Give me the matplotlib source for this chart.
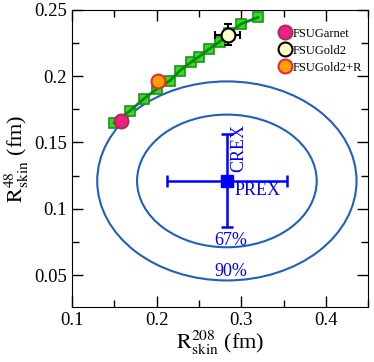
import matplotlib
matplotlib.use("Agg")
import matplotlib.pyplot as plt
import numpy as np
from matplotlib.patches import Ellipse
from matplotlib.ticker import MultipleLocator

plt.rcParams["font.family"] = ["Liberation Serif", "DejaVu Serif"]
plt.rcParams["mathtext.fontset"] = "stix"

# model family (green squares)
skin208 = [0.150, 0.1686, 0.1854, 0.2004, 0.2157, 0.2274, 0.2412, 0.2501,
           0.2619, 0.2745, 0.286, 0.300, 0.3195]
skin48 = [0.1646, 0.1738, 0.1831, 0.1904, 0.1965, 0.204, 0.2108, 0.2146,
          0.2204, 0.2259, 0.2327, 0.2394, 0.2442]

# named models
models = ["FSUGarnet", "FSUGold2", "FSUGold2+R"]
model_x = [0.1584, 0.2839, 0.2023]
model_y = [0.1663, 0.2311, 0.1965]
model_face = ["#ee1f8a", "#ffffc8", "#ffa000"]
model_edge = ["#a83048", "#000000", "#e82838"]
gold2_xerr = 0.015
gold2_yerr = 0.008

# PREX / CREX measurement
prex_x, prex_err = 0.283, 0.071
crex_y, crex_err = 0.121, 0.035

# confidence ellipses (half widths)
ell_labels = ["67%", "90%"]
ell_a = [0.106, 0.153]
ell_b = [0.050, 0.075]
ell_label_y = [0.076, 0.0527]

fig = plt.figure(figsize=(3.74, 3.62), dpi=100)
ax = fig.add_axes([0.192, 0.152, 0.793, 0.821])

for a, b, lab, ly in zip(ell_a, ell_b, ell_labels, ell_label_y):
    ax.add_patch(Ellipse((prex_x, crex_y), 2 * a, 2 * b, fill=False,
                         edgecolor="#1f5fbf", lw=1.5, zorder=1))
    ax.text(prex_x + 0.005, ly, lab, color="#0000ff", fontsize=13,
            ha="center", va="center")

ax.plot(skin208, skin48, "s", ms=7, mfc="#33dd22", mec="#1f8f1f",
        mew=1.2, ls="none", zorder=2)
ax.plot(skin208, skin48, color="#0a8a0a", lw=2, zorder=3)

ax.errorbar(model_x[1], model_y[1], xerr=gold2_xerr, yerr=gold2_yerr,
            fmt="none", ecolor="black", elinewidth=1.5, capsize=3,
            capthick=1.5, zorder=4)
for name, mx, my, fc, ec in zip(models, model_x, model_y, model_face, model_edge):
    ax.plot(mx, my, "o", ms=10, mfc=fc, mec=ec, mew=1.5, ls="none",
            label=name, zorder=5)

ax.errorbar(prex_x, crex_y, xerr=prex_err, yerr=crex_err, fmt="s", ms=8,
            color="#0000ff", elinewidth=1.8, capsize=4, capthick=1.8, zorder=4)
ax.text(0.319, 0.114, "PREX", color="#0000ff", fontsize=13, ha="center",
        va="center")
ax.text(0.2975, 0.146, "CREX", color="#0000ff", fontsize=13, ha="center",
        va="center", rotation=90)

ax.set_xlim(0.1, 0.45)
ax.set_ylim(0.026, 0.25)
ax.xaxis.set_major_locator(MultipleLocator(0.1))
ax.xaxis.set_minor_locator(MultipleLocator(0.05))
ax.yaxis.set_major_locator(MultipleLocator(0.05))
ax.yaxis.set_minor_locator(MultipleLocator(0.025))
ax.tick_params(which="both", direction="in", top=True, right=True,
               labelsize=13.5)
ax.tick_params(which="major", length=8, width=1)
ax.tick_params(which="minor", length=5, width=1)
ax.xaxis.set_major_formatter(plt.FuncFormatter(lambda v, p: f"{v:g}"))
ax.yaxis.set_major_formatter(plt.FuncFormatter(lambda v, p: f"{v:g}"))

ax.set_xlabel(r"$\mathrm{R}^{208}_{\mathrm{skin}}$ (fm)", fontsize=16, labelpad=0)
ax.set_ylabel(r"$\mathrm{R}^{48}_{\mathrm{skin}}$ (fm)", fontsize=16, labelpad=2)

ax.legend(loc="upper left", bbox_to_anchor=(0.68, 0.957), frameon=False,
          fontsize=9, handletextpad=0.1, handlelength=1.0, borderaxespad=0,
          labelspacing=0.4)

fig.savefig("out.png", dpi=100)
